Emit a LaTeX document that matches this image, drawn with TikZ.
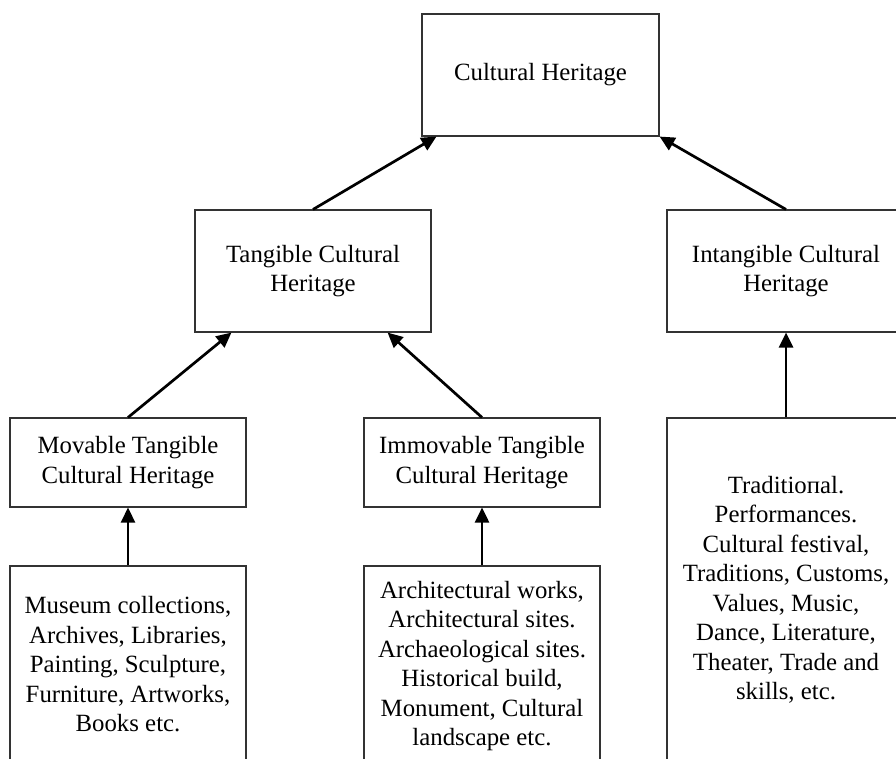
\documentclass[tikz,border=0pt]{standalone}
\usepackage{fontspec}
\setmainfont{Liberation Serif}
\usetikzlibrary{arrows.meta, positioning}
\definecolor{boxline}{rgb}{0.2, 0.2, 0.2}

\begin{document}
\begin{tikzpicture}[x=1pt, y=-1pt,
		box/.style={draw=boxline, line width=1.1pt, align=center, inner sep=0pt, minimum width=236pt, font=\fontsize{24.8}{29.5}\selectfont},
		arrowstyle/.style={-{Triangle[length=15pt, width=14pt]}, line width=2.7pt, black}
	]
	\useasboundingbox (0,0) rectangle (896,758);
	\clip (0,0) rectangle (896,758);
	% top level
	\node[box, minimum width=237pt, minimum height=122pt] (heritage) at (540.5,75) {Cultural Heritage};
	% second level
	\node[box, minimum height=122pt] (tangible) at (313,271) {Tangible Cultural\\Heritage};
	\node[box, minimum width=238pt, minimum height=122pt] (intangible) at (786,271) {Intangible Cultural\\Heritage};
	% third level
	\node[box, minimum height=89pt] (movable) at (128,462.5) {Movable Tangible\\Cultural Heritage};
	\node[box, minimum height=89pt] (immovable) at (482,462.5) {Immovable Tangible\\Cultural Heritage};
	% examples, open at the bottom edge
	\node[box, minimum height=197pt] (movitems) at (128,664.5) {Museum collections,\\Archives, Libraries,\\Painting, Sculpture,\\Furniture, Artworks,\\Books etc.};
	\node[box, minimum height=200pt] (immitems) at (482,666) {Architectural works,\\Architectural sites.\\Archaeological sites.\\Historical build,\\Monument, Cultural\\landscape etc.};
	\node[box, minimum width=238pt, minimum height=344pt] (intitems) at (786,590) {Traditioпal.\\Performances.\\Cultural festival,\\Traditions, Customs,\\Values, Music,\\Dance, Literature,\\Theater, Trade and\\skills, etc.};
	\draw[arrowstyle] (tangible.north) -- ([xshift=15pt]heritage.south west);
	\draw[arrowstyle] (intangible.north) -- (heritage.south east);
	\draw[arrowstyle] (movable.north) -- ([xshift=37pt]tangible.south west);
	\draw[arrowstyle] (immovable.north) -- ([xshift=-44pt]tangible.south east);
	\draw[arrowstyle] (movitems.north) -- (movable.south);
	\draw[arrowstyle] (immitems.north) -- (immovable.south);
	\draw[arrowstyle] (intitems.north) -- (intangible.south);
\end{tikzpicture}
\end{document}
